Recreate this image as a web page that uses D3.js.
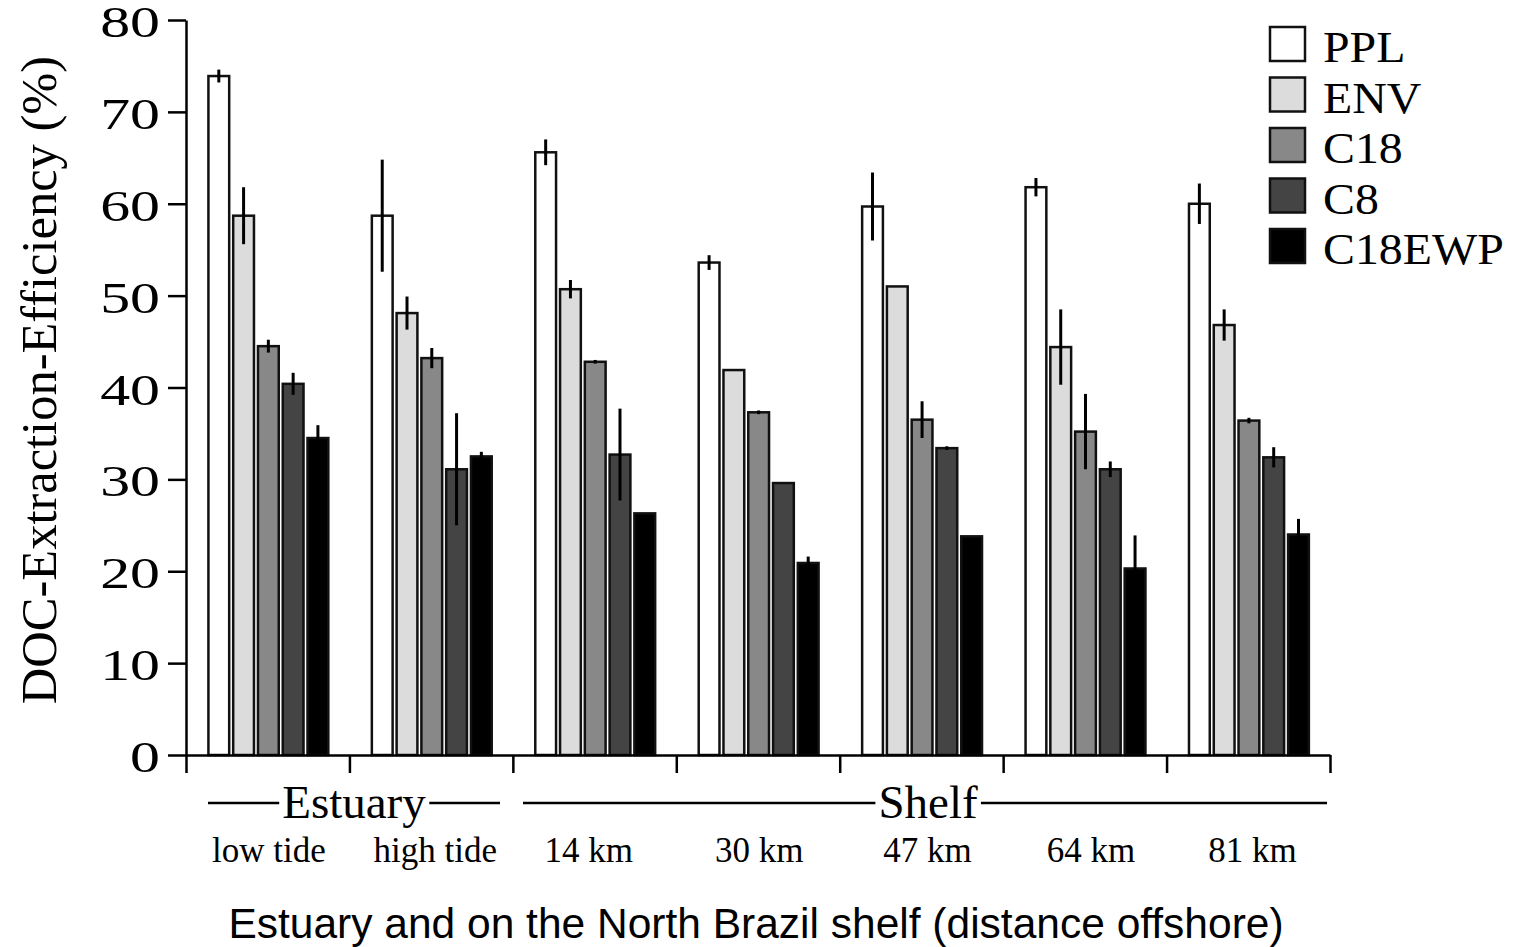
<!DOCTYPE html>
<html>
<head>
<meta charset="utf-8">
<script src="https://cdn.jsdelivr.net/npm/d3@7"></script>
<style>
  body { margin: 0; background: #fff; }
  svg { display: block; }
</style>
</head>
<body>
<div id="chart"></div>
<script>
const sites = ['low tide', 'high tide', '14 km', '30 km', '47 km', '64 km', '81 km'];
const series = ['PPL', 'ENV', 'C18', 'C8', 'C18EWP'];
const colors = ['#ffffff', '#dcdcdc', '#888888', '#444444', '#000000'];
const yTicks = [0, 10, 20, 30, 40, 50, 60, 70, 80];

// mean values per site
const ppl = [73.9, 58.7, 65.6, 53.6, 59.7, 61.8, 60.0];
const env = [58.7, 48.1, 50.7, 41.9, 51.0, 44.4, 46.8];
const c18 = [44.5, 43.2, 42.8, 37.3, 36.5, 35.2, 36.4];
const c8 = [40.4, 31.1, 32.7, 29.6, 33.4, 31.1, 32.4];
const c18ewp = [34.5, 32.5, 26.3, 20.9, 23.8, 20.3, 24.0];

// error (+/-)
const pplErr = [0.7, 6.1, 1.4, 0.8, 3.7, 1.0, 2.2];
const envErr = [3.1, 1.8, 1.0, 0, 0, 4.1, 1.7];
const c18Err = [0.7, 1.1, 0.2, 0.2, 2.0, 4.1, 0.3];
const c8Err = [1.2, 6.1, 5.0, 0, 0.2, 0.85, 1.1];
const c18ewpErr = [1.4, 0.5, 0, 0.7, 0, 3.6, 1.7];

const values = [ppl, env, c18, c8, c18ewp];
const errors = [pplErr, envErr, c18Err, c8Err, c18ewpErr];

const W = 1517, H = 947;
const plotLeft = 186, plotRight = 1330, plotTop = 20, plotBottom = 755;
const serif = '"Liberation Serif", "Times New Roman", serif';
// small horizontal nudges of the site labels, as in the original figure
const labelNudge = [0, 3, -7, 0, 5, 5, 3];

const svg = d3.select('#chart').append('svg')
  .attr('width', W)
  .attr('height', H);

const y = d3.scaleLinear().domain([0, 80]).range([plotBottom, plotTop]);
const x0 = d3.scaleBand().domain(sites).range([plotLeft, plotRight]).padding(0);
const x1 = d3.scaleBand().domain(series)
  .range([x0.bandwidth() * 0.128, x0.bandwidth() * 0.886]);
const xEdge = d3.scaleLinear().domain([0, sites.length]).range([plotLeft, plotRight]);

// bars
const groups = svg.append('g').selectAll('g')
  .data(sites)
  .enter().append('g')
  .attr('transform', d => `translate(${x0(d)},0)`);

groups.selectAll('rect')
  .data((d, i) => series.map((s, j) => ({ s, j, v: values[j][i], e: errors[j][i] })))
  .enter().append('rect')
  .attr('x', d => x1(d.s) + 1.5)
  .attr('width', x1.bandwidth() - 4)
  .attr('y', d => y(d.v))
  .attr('height', d => y(0) - y(d.v))
  .attr('fill', d => colors[d.j])
  .attr('stroke', '#111')
  .attr('stroke-width', 2.5);

groups.selectAll('line.err')
  .data((d, i) => series.map((s, j) => ({ s, v: values[j][i], e: errors[j][i] })).filter(d => d.e > 0))
  .enter().append('line')
  .attr('class', 'err')
  .attr('x1', d => x1(d.s) + x1.bandwidth() / 2 - 0.5)
  .attr('x2', d => x1(d.s) + x1.bandwidth() / 2 - 0.5)
  .attr('y1', d => y(d.v + d.e))
  .attr('y2', d => y(d.v - d.e))
  .attr('stroke', '#000')
  .attr('stroke-width', 3);

// y axis
const yAxis = svg.append('g')
  .attr('transform', `translate(${plotLeft},0)`)
  .call(d3.axisLeft(y).tickValues(yTicks).tickSize(18).tickSizeOuter(0).tickFormat(''));
yAxis.selectAll('path, line').attr('stroke', '#000').attr('stroke-width', 2.5);

svg.append('g').selectAll('text')
  .data(yTicks)
  .enter().append('text')
  .attr('transform', d => `translate(160,${y(d) + 17}) scale(1.36,1)`)
  .attr('text-anchor', 'end')
  .attr('font-family', serif)
  .attr('font-size', 44)
  .text(d => d);

// x axis with group boundary ticks
const xAxis = svg.append('g')
  .attr('transform', `translate(0,${plotBottom})`)
  .call(d3.axisBottom(xEdge).ticks(sites.length).tickSize(18).tickSizeOuter(0).tickFormat(''));
xAxis.selectAll('path, line').attr('stroke', '#000').attr('stroke-width', 2.5);

// site labels
svg.append('g').selectAll('text')
  .data(sites)
  .enter().append('text')
  .attr('x', (d, i) => x0(d) + (x1.range()[0] + x1.range()[1]) / 2 + labelNudge[i])
  .attr('y', 862)
  .attr('text-anchor', 'middle')
  .attr('font-family', serif)
  .attr('font-size', 35)
  .text(d => d);

// region brackets
const regions = [
  { name: 'Estuary', from: 208, to: 500 },
  { name: 'Shelf', from: 523, to: 1327 }
];
regions.forEach(r => {
  const g = svg.append('g');
  const t = g.append('text')
    .attr('x', (r.from + r.to) / 2 + (r.name === 'Shelf' ? 3 : 0))
    .attr('y', 818)
    .attr('text-anchor', 'middle')
    .attr('font-family', serif)
    .attr('font-size', 47)
    .text(r.name);
  const bb = t.node().getBBox();
  g.append('line')
    .attr('x1', r.from).attr('x2', bb.x - 3)
    .attr('y1', 803).attr('y2', 803)
    .attr('stroke', '#000').attr('stroke-width', 2.5);
  g.append('line')
    .attr('x1', bb.x + bb.width + 3).attr('x2', r.to)
    .attr('y1', 803).attr('y2', 803)
    .attr('stroke', '#000').attr('stroke-width', 2.5);
});

// axis titles
svg.append('text')
  .attr('transform', 'translate(56,380) rotate(-90)')
  .attr('text-anchor', 'middle')
  .attr('font-family', serif)
  .attr('font-size', 50.5)
  .text('DOC-Extraction-Efficiency (%)');

svg.append('text')
  .attr('x', 756)
  .attr('y', 938)
  .attr('text-anchor', 'middle')
  .attr('font-family', '"Liberation Sans", Arial, sans-serif')
  .attr('font-size', 42.5)
  .text('Estuary and on the North Brazil shelf (distance offshore)');

// legend
const legend = svg.append('g')
  .selectAll('g')
  .data(series)
  .enter().append('g')
  .attr('transform', (d, i) => `translate(1270,${27 + i * 50.5})`);

legend.append('rect')
  .attr('width', 35)
  .attr('height', 34)
  .attr('fill', (d, i) => colors[i])
  .attr('stroke', '#111')
  .attr('stroke-width', 2.5);

legend.append('text')
  .attr('transform', 'translate(53,35) scale(1.1,1)')
  .attr('font-family', serif)
  .attr('font-size', 43.5)
  .text(d => d);
</script>
</body>
</html>
